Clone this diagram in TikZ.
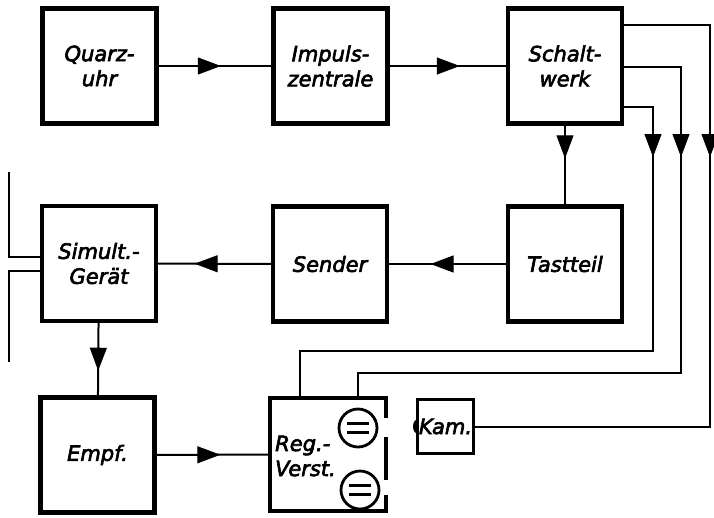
\documentclass[tikz,border=0pt]{standalone}
\usepackage{fontspec}
\setmainfont{DejaVu Sans}
\newfontfamily\lettering{DejaVu Sans}[FakeBold=3]
\usetikzlibrary{arrows.meta,decorations.markings}
\newcommand\lbl{\lettering\fontsize{21}{25}\selectfont\itshape}
\begin{document}
\begin{tikzpicture}[x=1pt,y=-1pt,
  blk/.style={draw, line width=4.5pt, minimum width=114pt, minimum height=115pt,
              inner sep=0pt, outer sep=0pt, align=center, font=\lbl},
  wire/.style={line width=2pt},
  tipat/.style={postaction={decorate},
    decoration={markings, mark=at position #1 with
      {\arrow[line width=1pt]{Triangle[length=23pt,width=17pt]}}}},
  tube/.style={draw, circle, line width=2.8pt, minimum size=38pt, inner sep=0pt},
  bar/.style={line width=3pt}
]
\useasboundingbox (0,0) rectangle (714,517);

% --- blocks ---
\node[blk] (quarz)  at (99.5,66)  {Quarz-\\uhr};
\node[blk] (impuls) at (330.5,66) {Impuls-\\zentrale};
\node[blk] (schalt) at (565,66)   {Schalt-\\werk};
\node[blk] (simult) at (99,263.5) {Simult.-\\Gerät};
\node[blk] (sender) at (330,264)  {Sender};
\node[blk] (tast)   at (565,264)  {Tastteil};
\node[blk] (empf)   at (97.5,455) {Empf.};
\node[blk, line width=3.5pt, minimum width=56pt, minimum height=54pt] (kam) at (445.5,426.5) {Kam.};

% amplifier block with interrupted right side
\node[minimum width=116pt, minimum height=113pt, inner sep=0pt, outer sep=0pt] (reg) at (328,454.5) {};
\draw[line width=4.5pt] ([yshift=-20pt]reg.north east) -- (reg.north east) -- (reg.north west)
  -- (reg.south west) -- (reg.south east) -- ([yshift=16pt]reg.south east);
\draw[line width=4.5pt] ([yshift=-39pt]reg.north east) -- ([yshift=-82pt]reg.north east);
\node[font=\lbl, align=left, anchor=west, inner sep=0pt] (regtxt) at (275,456) {Reg.-\\Verst.};

% tubes
\node[tube] (v1) at (358,428) {};
\node[tube] (v2) at (360,490) {};
\foreach \v in {v1,v2}{
  \draw[bar] ([shift={(-11pt,4.5pt)}]\v.center) -- ([shift={(11pt,4.5pt)}]\v.center);
  \draw[bar] ([shift={(-11pt,-4.5pt)}]\v.center) -- ([shift={(11pt,-4.5pt)}]\v.center);
}

% camera input bump
\fill ([yshift=7pt]kam.west) arc[start angle=90, end angle=270, x radius=4.5pt, y radius=7pt] -- cycle;

% --- signal chain ---
\draw[wire, tipat=0.55] (quarz) -- (impuls);
\draw[wire, tipat=0.60] (impuls) -- (schalt);
\draw[wire, tipat=0.42] (schalt) -- (tast);
\draw[wire, tipat=0.64] (tast) -- (sender);
\draw[wire, tipat=0.67] (sender) -- (simult);
\draw[wire, tipat=0.65] (simult) -- (empf);
\draw[wire, tipat=0.57] (empf) -- (reg);

% --- control lines from Schaltwerk ---
\coordinate (r1) at (710,25);
\coordinate (r2) at (681,67);
\coordinate (r3) at (653,107);
\coordinate (k2) at (681,373);
\coordinate (k2b) at (358,373);
\coordinate (k3) at (653,351);
\coordinate (k3b) at (300,351);
\draw[wire, tipat=220pt] (schalt.east |- r1) -- (r1) -- (r1 |- kam.east) -- (kam.east);
\draw[wire, tipat=149pt] (schalt.east |- r2) -- (r2) -- (k2) -- (k2b) -- (k2b |- reg.north);
\draw[wire, tipat=81pt]  (schalt.east |- r3) -- (r3) -- (k3) -- (k3b) -- (k3b |- reg.north);

% --- lines at the left of Simult.-Gerät ---
\coordinate (l1) at (9,172);
\coordinate (l1b) at (9,257);
\coordinate (l2) at (9,362);
\coordinate (l2b) at (9,271);
\draw[wire] (l1) -- (l1b) -- (simult.west |- l1b);
\draw[wire] (l2) -- (l2b) -- (simult.west |- l2b);
\end{tikzpicture}
\end{document}
